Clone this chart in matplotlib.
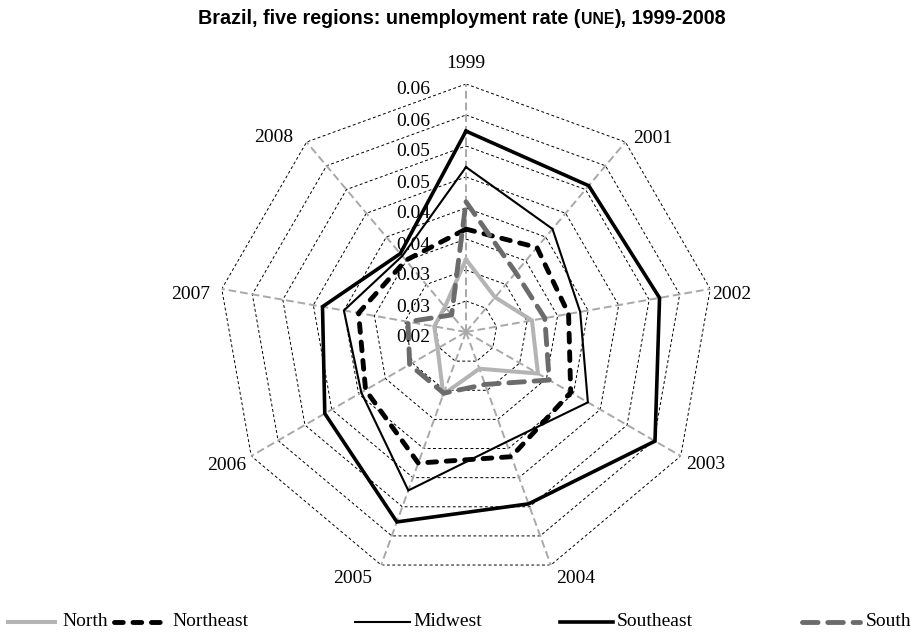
import numpy as np
import matplotlib
matplotlib.use("Agg")
import matplotlib.pyplot as plt
from matplotlib.lines import Line2D

# data
years = ["1999", "2001", "2002", "2003", "2004", "2005", "2006", "2007", "2008"]
north = [0.0317, 0.0273, 0.0308, 0.0334, 0.0263, 0.0307, 0.0253, 0.0252, 0.0253]
northeast = [0.0366, 0.0378, 0.0368, 0.0395, 0.0414, 0.0425, 0.0387, 0.0376, 0.0351]
midwest = [0.0466, 0.0417, 0.0387, 0.0427, 0.0389, 0.0472, 0.0395, 0.0400, 0.0360]
southeast = [0.0524, 0.0508, 0.0517, 0.0552, 0.0495, 0.0526, 0.0463, 0.0435, 0.0365]
south = [0.0410, 0.0325, 0.0329, 0.0355, 0.0290, 0.0305, 0.0305, 0.0295, 0.0236]

ring_levels = [0.02, 0.025, 0.03, 0.035, 0.04, 0.045, 0.05, 0.055, 0.06]
ring_labels = ["0.02", "0.03", "0.03", "0.04", "0.04", "0.05", "0.05", "0.06", "0.06"]

W, H = 914, 636
SERIF = "Liberation Serif"
SANS = "Liberation Sans"

fig = plt.figure(figsize=(W / 100, H / 100), dpi=100)
# polar axes centred at (466, 332) px, radius 248 px
ax = fig.add_axes([218 / W, 56 / H, 496 / W, 496 / H], projection="polar")
ax.set_theta_offset(np.pi / 2)
ax.set_theta_direction(-1)
ax.set_ylim(ring_levels[0], ring_levels[-1])
ax.grid(False)
ax.spines["polar"].set_visible(False)
ax.set_xticks([])
ax.set_yticks([])
ax.patch.set_alpha(0)

angles = np.linspace(0, 2 * np.pi, len(years), endpoint=False)
closed = np.append(angles, angles[0])

# polygon rings
for lev in ring_levels[1:]:
    ax.plot(closed, [lev] * len(closed), color="black", lw=0.7,
            linestyle=(0, (3, 2.5)), zorder=1)
# spokes
for a in angles:
    ax.plot([a, a], [ring_levels[0], ring_levels[-1]], color="#a8a8a8", lw=1.4,
            linestyle=(0, (4, 2)), zorder=2)

series = [
    ("North", north, dict(color="#b4b4b4", lw=2.9, linestyle="-")),
    ("Northeast", northeast, dict(color="black", lw=3.5, linestyle=(0, (1.8, 2.0)),
                                  dash_capstyle="round")),
    ("Midwest", midwest, dict(color="black", lw=1.5, linestyle="-")),
    ("Southeast", southeast, dict(color="black", lw=2.6, linestyle="-")),
    ("South", south, dict(color="#6b6b6b", lw=3.5, linestyle=(0, (3.2, 2.0)),
                          dash_capstyle="round")),
]
for name, vals, style in series:
    ax.plot(closed, vals + vals[:1], solid_joinstyle="miter", zorder=3, **style)

# radial tick labels along the 1999 axis
for lev, lab in zip(ring_levels, ring_labels):
    ax.annotate(lab, xy=(0, lev), xytext=(-36 * 0.72, -6 * 0.72),
                textcoords="offset points", ha="right", va="center",
                fontsize=14, family=SERIF, zorder=4)

# category labels: offset in px from the outer vertex
label_pos = [
    ((0, 21), "center"), ((8, 4), "left"), ((2, -6), "left"), ((5, -9), "left"),
    ((25, -13), "center"), ((-29, -13), "center"), ((-5, -9), "right"),
    ((-12, -6), "right"), ((-13, 5), "right"),
]
for a, yr, (off, ha) in zip(angles, years, label_pos):
    ax.annotate(yr, xy=(a, ring_levels[-1]), xytext=(off[0] * 0.72, off[1] * 0.72),
                textcoords="offset points", ha=ha, va="center",
                fontsize=14, family=SERIF)

# title with small caps "UNE"
renderer = fig.canvas.get_renderer()
parts = [("Brazil, five regions: unemployment rate (", 14.2),
         ("UNE", 11.3), ("), 1999-2008", 14.2)]
pieces = [fig.text(0, 1 - 24 / H, s, fontsize=fs, fontweight="bold", family=SANS,
                   va="baseline", ha="left") for s, fs in parts]
widths = [p.get_window_extent(renderer).width for p in pieces]
x = 462 - sum(widths) / 2
for p, w in zip(pieces, widths):
    p.set_x(x / W)
    x += w

# legend drawn along the bottom
leg_y = 1 - 622 / H
leg_items = [(8, 55, 62), (114, 166, 172), (355, 410, 413), (560, 613, 617), (802, 860, 866)]
for (name, vals, style), (x0, x1, xt) in zip(series, leg_items):
    fig.add_artist(Line2D([x0 / W, x1 / W], [leg_y, leg_y], **style))
    fig.text(xt / W, leg_y, name, fontsize=14, family=SERIF, va="center", ha="left")

fig.savefig("out.png", dpi=100)
